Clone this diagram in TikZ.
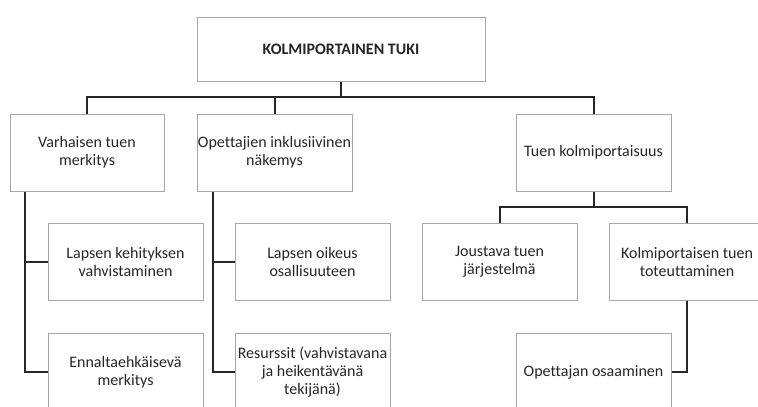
\documentclass[tikz,border=0pt]{standalone}
\usepackage{fontspec}
\setmainfont{Carlito}[Ligatures=NoCommon]
\begin{document}
\begin{tikzpicture}[x=1pt,y=-1pt,
  box/.style={draw=boxgray,line width=1pt,fill=white,align=center,inner xsep=0pt,inner ysep=2pt,
    font=\fontsize{16}{18}\selectfont,text=black!85},
  link/.style={draw=black!85,line width=2pt},
]
\definecolor{boxgray}{HTML}{A6A6A6}
\useasboundingbox (0,0) rectangle (758,407);
% root
\node[box,minimum width=288pt,minimum height=64pt,font=\fontsize{16}{18}\selectfont\bfseries] (top) at (341,49) {KOLMIPORTAINEN TUKI};
% second level
\node[box,minimum width=154pt,minimum height=77pt] (A) at (87,152.5) {Varhaisen tuen\\merkitys};
\node[box,minimum width=155pt,minimum height=77pt] (B) at (274.5,152.5) {Opettajien inklusiivinen\\näkemys};
\node[box,minimum width=155pt,minimum height=77pt] (C) at (593.5,152.5) {Tuen kolmiportaisuus};
% third level
\node[box,minimum width=155pt,minimum height=77pt] (A1) at (125.5,261.5) {Lapsen kehityksen\\vahvistaminen};
\node[box,minimum width=155pt,minimum height=78pt] (A2) at (125.5,372) {Ennaltaehkäisevä\\merkitys};
\node[box,minimum width=155pt,minimum height=77pt] (B1) at (312.5,261.5) {Lapsen oikeus\\osallisuuteen};
\node[box,minimum width=155pt,minimum height=78pt] (B2) at (312.5,372) {Resurssit (vahvistavana\\ja heikentävänä\\tekijänä)};
\node[box,minimum width=155pt,minimum height=77pt] (C1) at (499.5,261.5) {Joustava tuen\\järjestelmä};
\node[box,minimum width=156pt,minimum height=77pt] (C2) at (687,261.5) {Kolmiportaisen tuen\\toteuttaminen};
\node[box,minimum width=155pt,minimum height=78pt] (C3) at (593.5,372) {Opettajan osaaminen};
% bus lines and spines
\coordinate (bus1) at (0,97);
\coordinate (bus2) at (0,207);
\coordinate (spA) at (25,0);
\coordinate (spB) at (213,0);
\draw[link] (top.south) -- (top.south |- bus1);
\draw[link] (A.north) -- (A.north |- bus1) -- (C.north |- bus1) -- (C.north);
\draw[link] (B.north) -- (B.north |- bus1);
\draw[link] (spA |- A.south) |- (A2.west);
\draw[link] (spA |- A1.west) -- (A1.west);
\draw[link] (spB |- B.south) |- (B2.west);
\draw[link] (spB |- B1.west) -- (B1.west);
\draw[link] (C.south) -- (C.south |- bus2);
\draw[link] (C1.north) -- (C1.north |- bus2) -- (C2.north |- bus2) -- (C2.north);
\draw[link] (C2.south) |- (C3.east);
\end{tikzpicture}
\end{document}
